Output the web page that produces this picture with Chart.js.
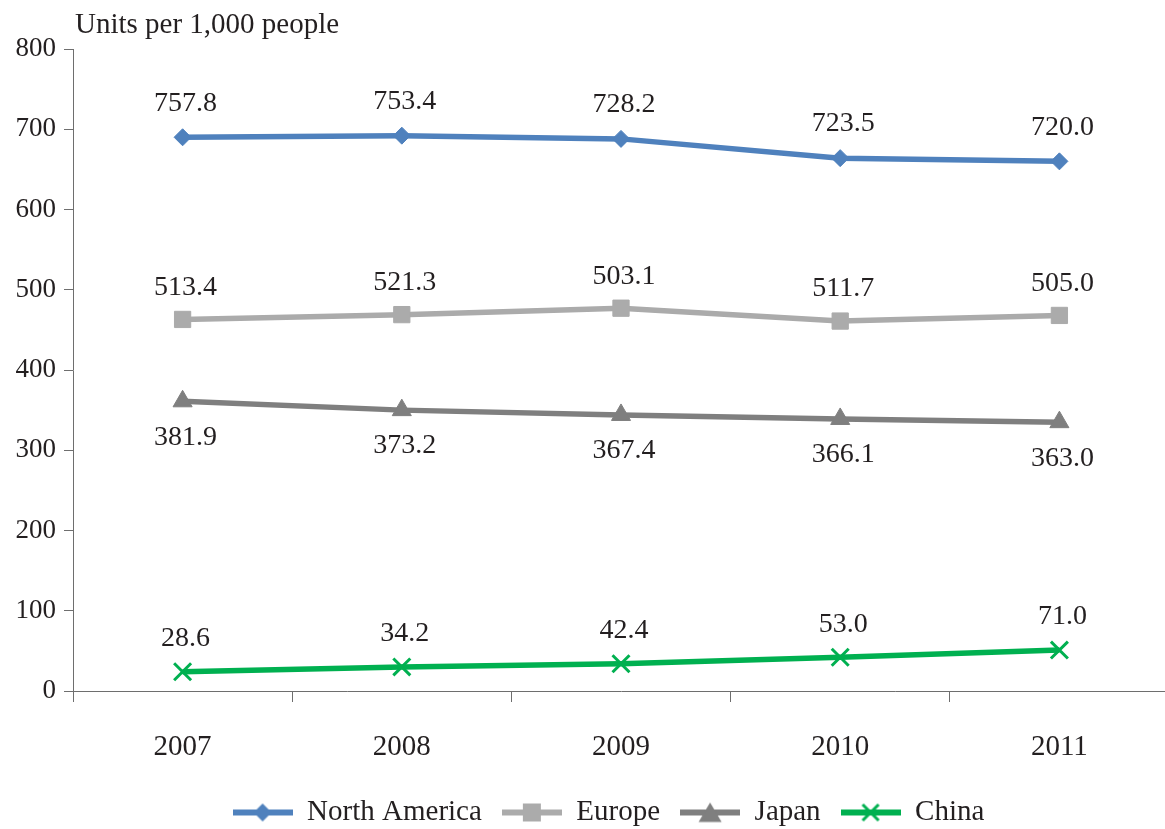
<!DOCTYPE html>
<html>
<head>
<meta charset="utf-8">
<script src="https://cdn.jsdelivr.net/npm/chart.js@4.4.1/dist/chart.umd.min.js"></script>
<style>
  html, body { margin: 0; padding: 0; background: #fff; overflow: hidden; }
  canvas { display: block; }
</style>
</head>
<body>
<canvas id="chart" width="1169" height="837"></canvas>
<script>
// categories and plotted values
const years = ["2007", "2008", "2009", "2010", "2011"];
const northAmerica = [690, 692, 688, 664, 660];
const europe = [463, 469, 477, 461, 468];
const japan = [361, 350, 344, 339, 335];
const china = [24, 30, 34, 42, 51];

// value labels printed next to each point
const northAmericaLabels = ["757.8", "753.4", "728.2", "723.5", "720.0"];
const europeLabels = ["513.4", "521.3", "503.1", "511.7", "505.0"];
const japanLabels = ["381.9", "373.2", "367.4", "366.1", "363.0"];
const chinaLabels = ["28.6", "34.2", "42.4", "53.0", "71.0"];

const yMin = 0;
const yMax = 800;
const yStep = 100;
const axisTitle = "Units per 1,000 people";

const FONT = "'Liberation Serif', 'Times New Roman', serif";
const TEXT = "#231f20";
const AXIS = "#6e6e6e";

// legend swatch: a short line with the marker on it
function swatch(color, style, size) {
  const c = document.createElement("canvas");
  c.width = 60;
  c.height = 30;
  const ctx = c.getContext("2d");
  const x = 30, y = 15;
  ctx.strokeStyle = color;
  ctx.fillStyle = color;
  ctx.lineWidth = 6;
  ctx.beginPath();
  ctx.moveTo(0, y);
  ctx.lineTo(60, y);
  ctx.stroke();
  ctx.beginPath();
  if (style === "rectRot") {
    ctx.moveTo(x - size, y);
    ctx.lineTo(x, y - size);
    ctx.lineTo(x + size, y);
    ctx.lineTo(x, y + size);
    ctx.closePath();
    ctx.fill();
  } else if (style === "rect") {
    ctx.fillRect(x - size, y - size, size * 2, size * 2);
  } else if (style === "triangle") {
    ctx.moveTo(x, y - size);
    ctx.lineTo(x + size * 1.15, y + size * 0.95);
    ctx.lineTo(x - size * 1.15, y + size * 0.95);
    ctx.closePath();
    ctx.fill();
  } else if (style === "crossRot") {
    ctx.lineWidth = 3;
    ctx.moveTo(x - size, y - size);
    ctx.lineTo(x + size, y + size);
    ctx.moveTo(x + size, y - size);
    ctx.lineTo(x - size, y + size);
    ctx.stroke();
  }
  return c;
}

const swatches = [
  swatch("#4f81bd", "rectRot", 9),
  swatch("#ababab", "rect", 9),
  swatch("#7f7f7f", "triangle", 10),
  swatch("#00b050", "crossRot", 8),
];

const valueLabels = {
  id: "valueLabels",
  afterDatasetsDraw(chart) {
    const ctx = chart.ctx;
    ctx.save();
    ctx.font = "28px " + FONT;
    ctx.fillStyle = TEXT;
    ctx.textAlign = "center";
    ctx.textBaseline = "middle";
    chart.data.datasets.forEach((ds, i) => {
      const meta = chart.getDatasetMeta(i);
      meta.data.forEach((pt, j) => {
        ctx.fillText(ds.valueLabels[j], pt.x + 3, pt.y + ds.labelShift);
      });
    });
    ctx.restore();
  },
};

const unitsTitle = {
  id: "unitsTitle",
  afterDraw(chart) {
    const ctx = chart.ctx;
    ctx.save();
    ctx.font = "29px " + FONT;
    ctx.fillStyle = TEXT;
    ctx.textAlign = "left";
    ctx.textBaseline = "alphabetic";
    ctx.fillText(axisTitle, chart.chartArea.left + 2, 33);
    ctx.restore();
  },
};

// the legend row sits a bit right of the canvas centre
const legendShift = {
  id: "legendShift",
  afterLayout(chart) {
    chart.legend.left += 24;
    chart.legend.right += 24;
  },
};

new Chart(document.getElementById("chart"), {
  type: "line",
  data: {
    labels: years,
    datasets: [
      {
        label: "North America",
        data: northAmerica,
        valueLabels: northAmericaLabels,
        labelShift: -34,
        borderColor: "#4f81bd",
        backgroundColor: "#4f81bd",
        pointStyle: "rectRot",
        pointRadius: 8.5,
      },
      {
        label: "Europe",
        data: europe,
        valueLabels: europeLabels,
        labelShift: -32,
        borderColor: "#ababab",
        backgroundColor: "#ababab",
        pointStyle: "rect",
        pointRadius: 11.5,
      },
      {
        label: "Japan",
        data: japan,
        valueLabels: japanLabels,
        labelShift: 36,
        borderColor: "#7f7f7f",
        backgroundColor: "#7f7f7f",
        pointStyle: "triangle",
        pointRadius: 11,
      },
      {
        label: "China",
        data: china,
        valueLabels: chinaLabels,
        labelShift: -33,
        borderColor: "#00b050",
        backgroundColor: "#00b050",
        pointStyle: "crossRot",
        pointRadius: 12,
        pointBorderWidth: 3,
      },
    ],
  },
  options: {
    responsive: false,
    animation: false,
    layout: { autoPadding: false, padding: { top: 49, left: 0, right: 0, bottom: 0 } },
    elements: {
      line: { borderWidth: 5.5, tension: 0 },
      point: { borderWidth: 1, hoverRadius: 10 },
    },
    scales: {
      x: {
        offset: true,
        grid: { drawOnChartArea: false, offset: true, tickLength: 11, color: AXIS },
        border: { color: AXIS, width: 1 },
        ticks: { color: TEXT, font: { family: FONT, size: 29 }, padding: 28 },
        afterFit(scale) {
          scale.height = 87;
          scale.paddingLeft = 0;
          scale.paddingRight = 0;
        },
      },
      y: {
        min: yMin,
        max: yMax,
        grid: { drawOnChartArea: false, tickLength: 9, color: AXIS },
        border: { color: AXIS, width: 1 },
        ticks: { stepSize: yStep, color: TEXT, font: { family: FONT, size: 27 }, padding: 8 },
        afterFit(scale) { scale.width = 73; },
      },
    },
    plugins: {
      legend: {
        position: "bottom",
        labels: {
          usePointStyle: true,
          pointStyleWidth: 60,
          padding: 20,
          color: TEXT,
          font: { family: FONT, size: 29 },
          generateLabels(chart) {
            const items = Chart.defaults.plugins.legend.labels.generateLabels(chart);
            return items.map((it, i) => Object.assign(it, { pointStyle: swatches[i] }));
          },
        },
      },
      tooltip: { enabled: false },
    },
  },
  plugins: [valueLabels, unitsTitle, legendShift],
});
</script>
</body>
</html>
